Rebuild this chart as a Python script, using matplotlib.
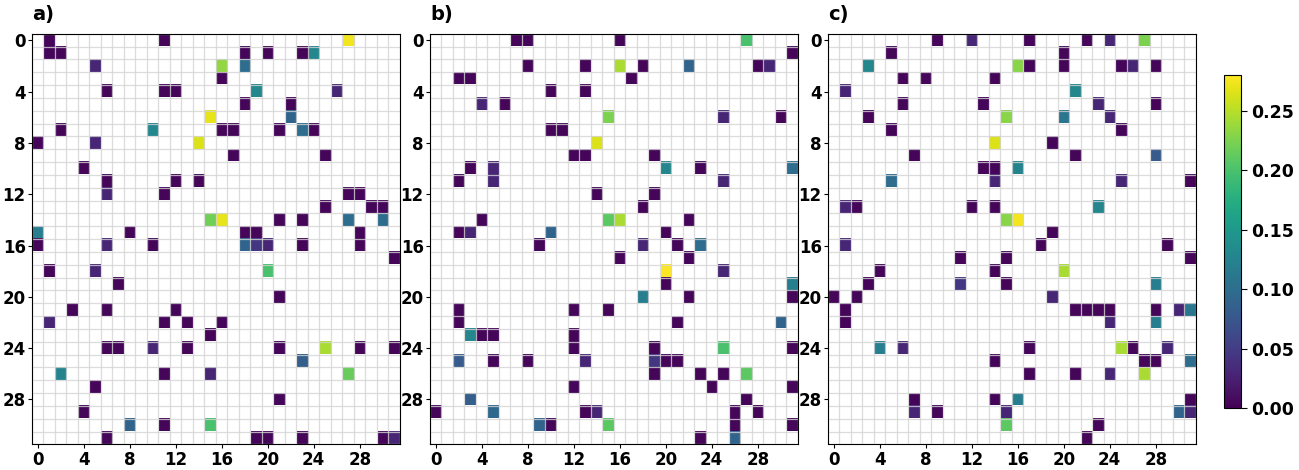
import numpy as np
import matplotlib
matplotlib.use("Agg")
import matplotlib.pyplot as plt

N = 32
panel_labels = ["a)", "b)", "c)"]
tick_values = list(range(0, 32, 4))
cbar_ticks = [0.00, 0.05, 0.10, 0.15, 0.20, 0.25]

# (row, col, value) for every non-zero cell
cells_a = [
    (0, 1, .005), (0, 11, .005), (0, 27, .275),
    (1, 1, .005), (1, 2, .005), (1, 18, .005), (1, 20, .005), (1, 23, .005), (1, 24, .13),
    (2, 5, .03), (2, 16, .235), (2, 18, .10),
    (3, 16, .005),
    (4, 6, .005), (4, 11, .005), (4, 12, .005), (4, 19, .13), (4, 26, .03),
    (5, 18, .005), (5, 22, .005),
    (6, 15, .27), (6, 22, .09),
    (7, 2, .005), (7, 10, .13), (7, 16, .005), (7, 17, .005), (7, 21, .005), (7, 23, .10), (7, 24, .005),
    (8, 0, .005), (8, 5, .03), (8, 14, .265),
    (9, 17, .005), (9, 25, .005),
    (10, 4, .005),
    (11, 6, .005), (11, 12, .005), (11, 14, .005),
    (12, 6, .03), (12, 11, .005), (12, 27, .005), (12, 28, .005),
    (13, 25, .005), (13, 29, .005), (13, 30, .005),
    (14, 15, .22), (14, 16, .27), (14, 21, .005), (14, 23, .005), (14, 27, .10), (14, 30, .10),
    (15, 0, .12), (15, 8, .005), (15, 18, .005), (15, 19, .005), (15, 28, .005),
    (16, 0, .005), (16, 6, .03), (16, 10, .005), (16, 18, .09), (16, 19, .045), (16, 20, .03),
    (16, 23, .005), (16, 28, .005),
    (17, 31, .005),
    (18, 1, .005), (18, 5, .03), (18, 20, .20),
    (19, 7, .005),
    (20, 21, .005),
    (21, 3, .005), (21, 6, .005), (21, 12, .005),
    (22, 1, .03), (22, 11, .005), (22, 13, .005), (22, 16, .005),
    (23, 15, .005),
    (24, 6, .005), (24, 7, .005), (24, 10, .03), (24, 13, .005), (24, 21, .005), (24, 25, .245),
    (24, 28, .005), (24, 31, .005),
    (25, 23, .085),
    (26, 2, .125), (26, 11, .005), (26, 15, .03), (26, 27, .215),
    (27, 5, .005),
    (28, 21, .005),
    (29, 4, .005),
    (30, 8, .09), (30, 11, .005), (30, 15, .20),
    (31, 6, .005), (31, 19, .005), (31, 20, .005), (31, 23, .005), (31, 30, .005), (31, 31, .03),
]

cells_b = [
    (0, 7, .005), (0, 8, .005), (0, 16, .005), (0, 27, .20),
    (1, 31, .005),
    (2, 8, .005), (2, 13, .005), (2, 16, .245), (2, 18, .005), (2, 22, .09), (2, 28, .005), (2, 29, .03),
    (3, 2, .005), (3, 3, .005), (3, 17, .005),
    (4, 10, .005), (4, 13, .005),
    (5, 4, .03), (5, 6, .005),
    (6, 15, .225), (6, 25, .03), (6, 30, .005),
    (7, 10, .005), (7, 11, .005),
    (8, 14, .265),
    (9, 12, .005), (9, 13, .005), (9, 19, .005),
    (10, 3, .005), (10, 5, .03), (10, 20, .13), (10, 23, .005), (10, 31, .10),
    (11, 2, .005), (11, 5, .03), (11, 25, .03),
    (12, 14, .005), (12, 19, .005),
    (13, 18, .005),
    (14, 4, .005), (14, 15, .21), (14, 16, .245), (14, 22, .005),
    (15, 2, .005), (15, 3, .03), (15, 10, .09), (15, 20, .005),
    (16, 9, .005), (16, 18, .03), (16, 21, .005), (16, 23, .10),
    (17, 16, .005), (17, 22, .005),
    (18, 20, .28), (18, 25, .03),
    (19, 20, .005), (19, 31, .12),
    (20, 18, .12), (20, 22, .005), (20, 31, .005),
    (21, 2, .005), (21, 12, .005), (21, 15, .005),
    (22, 2, .005), (22, 21, .005), (22, 30, .09),
    (23, 3, .13), (23, 4, .005), (23, 5, .005), (23, 12, .005),
    (24, 12, .005), (24, 19, .005), (24, 25, .20), (24, 31, .005),
    (25, 2, .08), (25, 5, .005), (25, 8, .005), (25, 13, .03), (25, 19, .045), (25, 20, .005), (25, 21, .005),
    (26, 19, .005), (26, 23, .005), (26, 25, .005), (26, 27, .21),
    (27, 12, .005), (27, 24, .005), (27, 31, .005),
    (28, 3, .085), (28, 27, .005),
    (29, 0, .005), (29, 5, .095), (29, 13, .005), (29, 14, .03), (29, 26, .005), (29, 28, .005),
    (30, 9, .09), (30, 10, .005), (30, 15, .21), (30, 26, .005), (30, 31, .005),
    (31, 23, .005), (31, 26, .09),
]

cells_c = [
    (0, 9, .005), (0, 12, .03), (0, 17, .005), (0, 22, .005), (0, 24, .03), (0, 27, .225),
    (1, 5, .005), (1, 20, .005),
    (2, 3, .13), (2, 16, .23), (2, 17, .005), (2, 20, .005), (2, 25, .005), (2, 26, .03), (2, 28, .005),
    (3, 6, .005), (3, 8, .005), (3, 14, .005),
    (4, 1, .03), (4, 21, .13),
    (5, 6, .005), (5, 13, .005), (5, 23, .03), (5, 28, .005),
    (6, 3, .005), (6, 15, .23), (6, 20, .11), (6, 24, .03),
    (7, 5, .005), (7, 25, .005),
    (8, 14, .265), (8, 19, .005),
    (9, 7, .005), (9, 21, .005), (9, 28, .08),
    (10, 13, .005), (10, 14, .005), (10, 16, .125),
    (11, 5, .10), (11, 14, .03), (11, 25, .03), (11, 31, .005),
    (13, 1, .03), (13, 2, .005), (13, 12, .005), (13, 14, .005), (13, 23, .13),
    (14, 15, .23), (14, 16, .275),
    (15, 19, .005),
    (16, 1, .03), (16, 18, .005), (16, 29, .005),
    (17, 11, .005), (17, 15, .005), (17, 31, .005),
    (18, 4, .005), (18, 14, .005), (18, 20, .245),
    (19, 3, .005), (19, 11, .045), (19, 15, .005), (19, 28, .12),
    (20, 0, .005), (20, 2, .005), (20, 19, .03),
    (21, 1, .005), (21, 21, .005), (21, 22, .005), (21, 23, .005), (21, 24, .005), (21, 28, .005),
    (21, 30, .03), (21, 31, .11),
    (22, 1, .005), (22, 24, .03), (22, 28, .12),
    (24, 4, .12), (24, 6, .03), (24, 17, .005), (24, 25, .245), (24, 26, .005), (24, 29, .03),
    (25, 14, .005), (25, 27, .005), (25, 28, .005), (25, 31, .10),
    (26, 17, .005), (26, 21, .005), (26, 24, .03), (26, 27, .245),
    (28, 7, .005), (28, 14, .005), (28, 16, .12), (28, 31, .005),
    (29, 7, .03), (29, 9, .005), (29, 15, .03), (29, 30, .09), (29, 31, .03),
    (30, 15, .21), (30, 23, .005),
    (31, 22, .005),
]


def to_grid(cells):
    g = np.zeros((N, N))
    for r, c, v in cells:
        g[r, c] = v
    return np.ma.masked_equal(g, 0)


grids = [to_grid(c) for c in (cells_a, cells_b, cells_c)]
vmax = max(g.max() for g in grids)

cmap = plt.get_cmap("viridis").copy()
cmap.set_bad("white")

fig = plt.figure(figsize=(12.99, 4.70), dpi=100)
lefts = [0.0246, 0.3310, 0.6374]
im = None
for left, grid, lab in zip(lefts, grids, panel_labels):
    ax = fig.add_axes([left, 0.0545, 0.2833, 0.8735])
    im = ax.imshow(grid, cmap=cmap, vmin=0, vmax=vmax, aspect="auto",
                   interpolation="nearest")
    # cell grid
    ax.set_xticks(np.arange(-0.5, N, 1), minor=True)
    ax.set_yticks(np.arange(-0.5, N, 1), minor=True)
    ax.grid(which="minor", color="#d4d4d4", linewidth=0.9, alpha=0.8)
    ax.tick_params(which="minor", length=0)
    ax.set_xticks(tick_values)
    ax.set_yticks(tick_values)
    ax.tick_params(which="major", labelsize=12, length=3, pad=1.5)
    for t in ax.get_xticklabels() + ax.get_yticklabels():
        t.set_fontweight("bold")
    ax.text(0.0, 1.025, lab, transform=ax.transAxes, fontsize=14,
            fontweight="bold", ha="left", va="bottom")

cax = fig.add_axes([0.9423, 0.1319, 0.0131, 0.7085])
cb = fig.colorbar(im, cax=cax, ticks=cbar_ticks)
cb.ax.set_yticklabels([f"{t:.2f}" for t in cbar_ticks])
cb.ax.tick_params(labelsize=12.5, length=4)
for t in cb.ax.get_yticklabels():
    t.set_fontweight("bold")

fig.savefig("out.png", dpi=100)
